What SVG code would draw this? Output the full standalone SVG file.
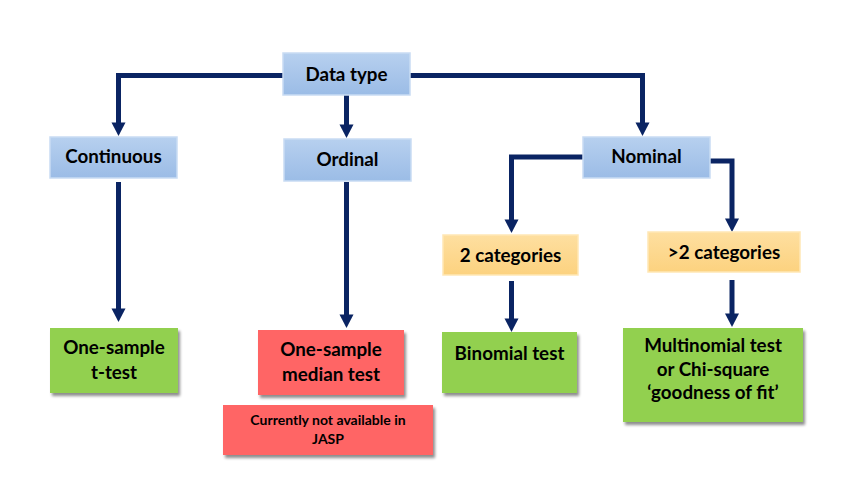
<svg xmlns="http://www.w3.org/2000/svg" width="865" height="489" viewBox="0 0 865 489">
<defs>
<linearGradient id="gBlue" x1="0" y1="0" x2="0" y2="1"><stop offset="0" stop-color="#b7d0ef"/><stop offset="1" stop-color="#9bbce6"/></linearGradient>
<linearGradient id="gYel" x1="0" y1="0" x2="0" y2="1"><stop offset="0" stop-color="#fedfa0"/><stop offset="1" stop-color="#fcd27f"/></linearGradient>
<filter id="sh" x="-10%" y="-10%" width="125%" height="130%"><feGaussianBlur in="SourceAlpha" stdDeviation="1.5"/><feOffset dx="2" dy="3"/><feComponentTransfer><feFuncA type="linear" slope="0.45"/></feComponentTransfer><feMerge><feMergeNode/><feMergeNode in="SourceGraphic"/></feMerge></filter>
</defs>
<style>
.blue{fill:url(#gBlue);stroke:#c9dcf3;stroke-width:1.5}
.yel{fill:url(#gYel);stroke:#ffe7b5;stroke-width:1.5}
.grn{fill:#92d050;filter:url(#sh)}
.red{fill:#ff6565;filter:url(#sh)}
text{font-family:Lato,"Open Sans","Liberation Sans",sans-serif;font-weight:bold;font-size:18.8px;fill:#000;text-anchor:middle}
.sm{font-size:14px}
.c{fill:none;stroke:#0a2463;stroke-width:5;stroke-linejoin:miter}
.a{fill:none;stroke:#0a2463;stroke-width:5}
</style>
<g id="connectors">
<path class="c" d="M283,75.5 H118.5 V124"/>
<path class="c" d="M410,75.5 H642.5 V124"/>
<path class="a" d="M346.5,95 V126"/>
<path class="a" d="M118.5,182 V310"/>
<path class="a" d="M346.5,182 V316"/>
<path class="c" d="M583,157 H511.5 V221"/>
<path class="c" d="M710,161 H732 V220"/>
<path class="a" d="M511.5,281 V320"/>
<path class="a" d="M732,280 V315"/>
<g fill="#0a2463">
<path d="M111.5,122.5 h14 l-7,13.5 z"/>
<path d="M635.5,122.5 h14 l-7,13.5 z"/>
<path d="M339.5,124.5 h14 l-7,13.5 z"/>
<path d="M111.5,308.5 h14 l-7,13.5 z"/>
<path d="M339.5,314.5 h14 l-7,13.5 z"/>
<path d="M504.5,219.5 h14 l-7,13.5 z"/>
<path d="M725,218.5 h14 l-7,13.5 z"/>
<path d="M504.5,318.5 h14 l-7,13.5 z"/>
<path d="M725,313.5 h14 l-7,13.5 z"/>
</g>
</g>
<g id="data-type"><rect class="blue" x="283" y="53" width="127" height="42"/><text x="346.5" y="80.5">Data type</text></g>
<g id="continuous"><rect class="blue" x="50" y="137" width="127" height="41"/><text x="113.5" y="162.5">Continuous</text></g>
<g id="ordinal"><rect class="blue" x="284" y="139" width="127" height="42"/><text x="347.5" y="165.5">Ordinal</text></g>
<g id="nominal"><rect class="blue" x="583" y="137" width="127" height="41"/><text x="646.5" y="162.5">Nominal</text></g>
<g id="two-categories"><rect class="yel" x="443" y="235" width="135" height="40"/><text x="510.5" y="261.5">2 categories</text></g>
<g id="more-categories"><rect class="yel" x="648" y="232" width="152" height="40"/><text x="724" y="258.5">&gt;2 categories</text></g>
<g id="t-test"><rect class="grn" x="50" y="328" width="128" height="65"/><text x="114" y="354">One-sample</text><text x="114" y="379">t-test</text></g>
<g id="median-test"><rect class="red" x="258" y="330" width="146" height="65"/><text x="331" y="356">One-sample</text><text x="331" y="381">median test</text></g>
<g id="not-available"><rect class="red" x="223" y="405" width="210" height="50"/><text class="sm" x="328" y="425">Currently not available in</text><text class="sm" x="328" y="444">JASP</text></g>
<g id="binomial"><rect class="grn" x="442" y="332" width="135" height="61"/><text x="509.5" y="360">Binomial test</text></g>
<g id="multinomial"><rect class="grn" x="623" y="328" width="180" height="94"/><text x="713" y="352">Multinomial test</text><text x="713" y="375.5">or Chi-square</text><text x="713" y="399">‘goodness of fit’</text></g>
</svg>
